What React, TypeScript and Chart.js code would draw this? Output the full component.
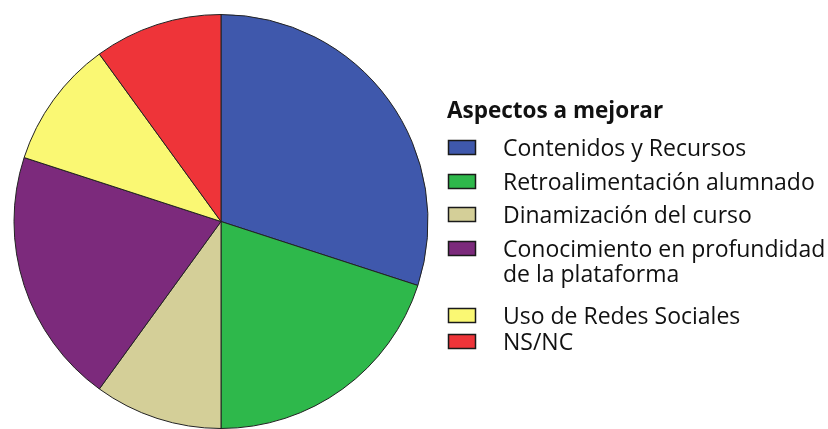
import React, { useEffect, useRef } from "react";
import { Chart, registerables } from "chart.js";

Chart.register(...registerables);

const legendTitle = "Aspectos a mejorar";
const categories = [
  "Contenidos y Recursos",
  "Retroalimentación alumnado",
  "Dinamización del curso",
  "Conocimiento en profundidad de la plataforma",
  "Uso de Redes Sociales",
  "NS/NC",
];
const legendLines = [
  ["Contenidos y Recursos"],
  ["Retroalimentación alumnado"],
  ["Dinamización del curso"],
  ["Conocimiento en profundidad", "de la plataforma"],
  ["Uso de Redes Sociales"],
  ["NS/NC"],
];
const values = [30, 20, 10, 20, 10, 10];
const colors = ["#3F58AC", "#2EB84B", "#D4CF98", "#7C2A7C", "#FAF873", "#EE3439"];

const FONT = '"Open Sans", "Noto Sans", sans-serif';

const legendPlugin = {
  id: "customLegend",
  afterDraw(chart: any) {
    const ctx = chart.ctx as CanvasRenderingContext2D;
    ctx.save();
    ctx.fillStyle = "#111";
    ctx.textBaseline = "alphabetic";
    ctx.font = `bold 22.5px ${FONT}`;
    ctx.fillText(legendTitle, 447, 118);
    const baselines = [156, 190, 223, 257, 324, 350];
    legendLines.forEach((lines, i) => {
      const b = baselines[i];
      ctx.fillStyle = colors[i];
      ctx.fillRect(448, b - 16, 28, 15);
      ctx.strokeStyle = "#1a1a1a";
      ctx.lineWidth = 1.5;
      ctx.strokeRect(448.5, b - 15.5, 27, 14);
      ctx.fillStyle = "#111";
      ctx.font = `23px ${FONT}`;
      lines.forEach((t, j) => {
        ctx.fillText(t, 503, b + j * 25);
      });
    });
    ctx.restore();
  },
};

export default function App() {
  const ref = useRef<HTMLCanvasElement | null>(null);
  useEffect(() => {
    if (!ref.current) return;
    const chart = new Chart(ref.current, {
      type: "pie",
      data: {
        labels: categories,
        datasets: [
          {
            data: values,
            backgroundColor: colors,
            borderColor: "#222",
            borderWidth: 1,
          },
        ],
      },
      options: {
        responsive: false,
        animation: false,
        layout: { padding: { left: 13, top: 14, right: 399, bottom: 0 } },
        plugins: {
          legend: { display: false },
          tooltip: { enabled: false },
        },
      },
      plugins: [legendPlugin],
    });
    return () => chart.destroy();
  }, []);
  return (
    <div
      style={{
        position: "fixed",
        left: 0,
        top: 0,
        width: 828,
        height: 429,
        overflow: "hidden",
        background: "#fff",
      }}
    >
      <canvas ref={ref} width={828} height={429} style={{ display: "block", width: 828, height: 429 }} />
    </div>
  );
}
